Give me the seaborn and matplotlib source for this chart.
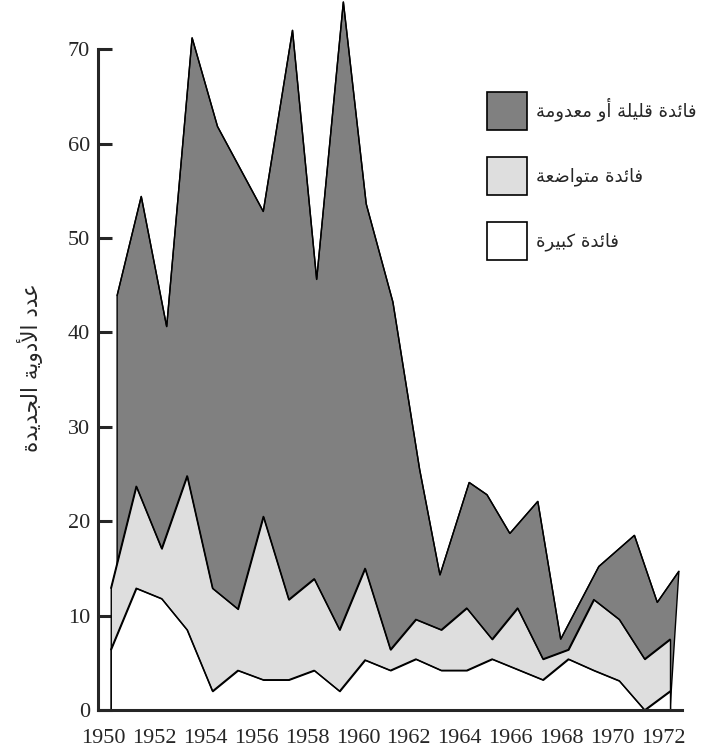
"""Stacked area chart: new drugs per year by therapeutic benefit (1950-1972)."""
import numpy as np
import matplotlib
matplotlib.use("Agg")
import matplotlib.pyplot as plt
from matplotlib.patches import Patch
from matplotlib.transforms import ScaledTranslation
import seaborn as sns

# Data
years = list(range(1950, 1973))
great = [6.4, 12.9, 11.8, 8.5, 2.0, 4.2, 3.2, 3.2, 4.2, 2.0, 5.3, 4.2,
         5.4, 4.2, 4.2, 5.4, 4.3, 3.2, 5.4, 4.2, 3.1, 0.0, 2.0]
moderate = [6.5, 10.8, 5.3, 16.3, 10.9, 6.5, 17.3, 8.5, 9.7, 6.5, 9.7, 2.2,
            4.2, 4.3, 6.6, 2.1, 6.5, 2.2, 1.0, 7.5, 6.5, 5.4, 5.5]
# the top (total) outline in the original is not drawn on exactly the same years
total_years = [1950.25, 1951.2, 1952.2, 1953.2, 1954.2, 1955.1, 1956.0, 1957.15,
               1958.1, 1959.15, 1960.05, 1961.1, 1962.15, 1962.95, 1964.1, 1964.8,
               1965.7, 1966.8, 1967.7, 1969.2, 1970.6, 1971.5, 1972.35]
total = [43.9, 54.4, 40.6, 71.2, 61.8, 57.3, 52.8, 72.0, 45.6, 75.0, 53.6, 43.2,
         25.5, 14.3, 24.1, 22.8, 18.7, 22.1, 7.5, 15.2, 18.5, 11.4, 14.7]
year_ticks = list(range(1950, 1973, 2))
y_ticks = list(range(0, 71, 10))

labels = ["فائدة قليلة أو معدومة", "فائدة متواضعة", "فائدة كبيرة"]
ylabel = "عدد الأدوية الجديدة"
colors = ["#808080", "#dedede", "#ffffff"]

# matplotlib does no Arabic shaping, so pick the presentation forms by hand
FORMS = {
    "ا": ("\ufe8d", "\ufe8e", None, None),
    "أ": ("\ufe83", "\ufe84", None, None),
    "ب": ("\ufe8f", "\ufe90", "\ufe91", "\ufe92"),
    "ة": ("\ufe93", "\ufe94", None, None),
    "ت": ("\ufe95", "\ufe96", "\ufe97", "\ufe98"),
    "ج": ("\ufe9d", "\ufe9e", "\ufe9f", "\ufea0"),
    "د": ("\ufea9", "\ufeaa", None, None),
    "ر": ("\ufead", "\ufeae", None, None),
    "ض": ("\ufebd", "\ufebe", "\ufebf", "\ufec0"),
    "ع": ("\ufec9", "\ufeca", "\ufecb", "\ufecc"),
    "ف": ("\ufed1", "\ufed2", "\ufed3", "\ufed4"),
    "ق": ("\ufed5", "\ufed6", "\ufed7", "\ufed8"),
    "ك": ("\ufed9", "\ufeda", "\ufedb", "\ufedc"),
    "ل": ("\ufedd", "\ufede", "\ufedf", "\ufee0"),
    "م": ("\ufee1", "\ufee2", "\ufee3", "\ufee4"),
    "و": ("\ufeed", "\ufeee", None, None),
    "ي": ("\ufef1", "\ufef2", "\ufef3", "\ufef4"),
    "ئ": ("\ufe89", "\ufe8a", "\ufe8b", "\ufe8c"),
}
LAM_ALEF = {"أ": ("\ufef7", "\ufef8"), "ا": ("\ufefb", "\ufefc")}


def shape(text):
    def dual(c):
        return c in FORMS and FORMS[c][2] is not None
    out = []
    i = 0
    while i < len(text):
        c = text[i]
        if c not in FORMS:
            out.append(c)
            i += 1
            continue
        link_prev = i > 0 and dual(text[i - 1])
        nxt = text[i + 1] if i + 1 < len(text) else ""
        if c == "ل" and nxt in LAM_ALEF:
            iso, fin = LAM_ALEF[nxt]
            out.append(fin if link_prev else iso)
            i += 2
            continue
        link_next = dual(c) and nxt in FORMS
        iso, fin, ini, med = FORMS[c]
        if link_prev and link_next:
            out.append(med)
        elif link_prev:
            out.append(fin)
        elif link_next:
            out.append(ini)
        else:
            out.append(iso)
        i += 1
    return "".join(reversed(out))


sns.set_style("ticks")
plt.rcParams["font.family"] = ["Liberation Serif", "DejaVu Serif"]

fig = plt.figure(figsize=(7.18, 7.5), dpi=100)
ax = fig.add_axes([98.3 / 718, 40 / 750, (681.7 - 98.3) / 718, 710 / 750])

great_top = np.array(great)
moderate_top = great_top + np.array(moderate)

# total area closes back onto the baseline at the last year, as in the original
ax.fill(total_years + [years[-1], total_years[0]], total + [0, 0],
        facecolor=colors[0], edgecolor="black", linewidth=1.0)
ax.fill_between(years, 0, moderate_top, facecolor=colors[1], edgecolor="black", linewidth=1.0)
ax.fill_between(years, 0, great_top, facecolor=colors[2], edgecolor="black", linewidth=1.0)
for xs, ys in [(total_years, total), (years, moderate_top), (years, great_top)]:
    sns.lineplot(x=xs, y=ys, color="black", linewidth=1.0, ax=ax)

ax.set_xlim(1949.51, 1972.46)
ax.set_ylim(0, 75.2)
ax.set_xticks(year_ticks)
ax.set_yticks(y_ticks)
ax.set_xlabel("")
ax.set_ylabel("")

sns.despine(ax=ax)
for side in ["left", "bottom"]:
    ax.spines[side].set_linewidth(2.2)
ax.spines["left"].set_bounds(0, 70)
ax.tick_params(axis="y", direction="in", length=10, width=2.2, labelsize=16, pad=6)
ax.tick_params(axis="x", length=0, labelsize=16, pad=13.5)
shift = ScaledTranslation(-7 / 100, 0, fig.dpi_scale_trans)
for lab in ax.get_xticklabels():
    lab.set_transform(lab.get_transform() + shift)

handles = [Patch(facecolor=c, edgecolor="black", linewidth=1.2) for c in colors]
ax.legend(handles, [shape(t) for t in labels], loc="upper left",
          bbox_to_anchor=((487 - 98.3) / 583.4, 1 - 92 / 710), frameon=False,
          borderpad=0, borderaxespad=0, handlelength=2.21, handleheight=2.86,
          labelspacing=1.5, handletextpad=0.5,
          prop={"family": ["DejaVu Sans"], "size": 13})

fig.text(30 / 718, 1 - 368 / 750, shape(ylabel), rotation=90, ha="center", va="center",
         fontsize=15.5, family=["DejaVu Sans"])

fig.savefig("out.png", dpi=100)
